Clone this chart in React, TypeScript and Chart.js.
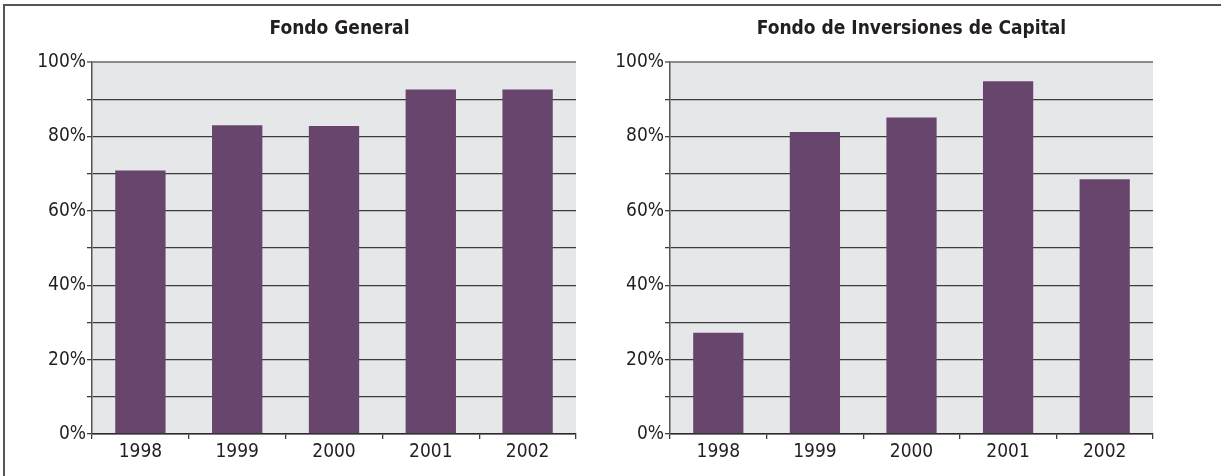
import React, { useEffect, useRef } from "react";
import { Chart, registerables } from "chart.js";

Chart.register(...registerables);

const years = ["1998", "1999", "2000", "2001", "2002"];
const fondoGeneral = [70.8, 83.0, 82.8, 92.6, 92.6];
const fondoCapital = [27.2, 81.2, 85.1, 94.8, 68.5];
const titleGeneral = "Fondo General";
const titleCapital = "Fondo de Inversiones de Capital";

const FONT = '"Liberation Sans Narrow", "DejaVu Sans Condensed", "Liberation Sans", Arial, sans-serif';
const BAR = "#67456c";
const TEXT = "#231f20";
const GRID = "#3c3c3c";

const bgPlugin = {
  id: "plotBg",
  beforeDraw(chart: any) {
    const { ctx, chartArea } = chart;
    if (!chartArea) return;
    ctx.save();
    ctx.fillStyle = "#e6e7e9";
    ctx.fillRect(chartArea.left, chartArea.top, chartArea.right - chartArea.left, chartArea.bottom - chartArea.top);
    ctx.restore();
  },
};

function makeConfig(title: string, values: number[], yWidth: number, rightPad: number): any {
  return {
    type: "bar",
    data: {
      labels: years,
      datasets: [
        {
          data: values,
          backgroundColor: BAR,
          borderWidth: 0,
          categoryPercentage: 1,
          barPercentage: 0.52,
        },
      ],
    },
    options: {
      responsive: false,
      animation: false,
      devicePixelRatio: 1,
      layout: { padding: 0 },
      plugins: {
        legend: { display: false },
        tooltip: { enabled: false },
        title: {
          display: true,
          text: title,
          color: TEXT,
          font: { family: FONT, size: 19, weight: "bold", lineHeight: 1.2 },
          padding: { top: 18, bottom: 21.2 },
        },
      },
      scales: {
        x: {
          grid: {
            display: true,
            drawOnChartArea: false,
            drawTicks: true,
            tickLength: 5,
            offset: true,
            color: GRID,
            lineWidth: 1.3,
          },
          border: { display: true, color: "#2a2a2a", width: 1.5 },
          ticks: { color: TEXT, font: { family: FONT, size: 19 }, padding: 2, maxRotation: 0 },
          afterFit(s: any) {
            s.height = 42;
          },
        },
        y: {
          min: 0,
          max: 100,
          grid: {
            drawTicks: true,
            tickLength: 5,
            color: (c: any) => (c.tick && c.tick.value === 100 ? "#8a8a8a" : GRID),
            lineWidth: (c: any) => (c.tick && c.tick.value === 100 ? 2 : 1.3),
          },
          border: { display: true, color: "#555555", width: 1.5 },
          ticks: {
            stepSize: 10,
            color: TEXT,
            padding: 1,
            font: { family: FONT, size: 19 },
            callback: (v: any) => (Number(v) % 20 === 0 ? v + "%" : ""),
          },
          afterFit(s: any) {
            s.width = yWidth;
          },
        },
        pad: {
          type: "linear",
          position: "right",
          display: true,
          grid: { display: false },
          border: { display: false },
          ticks: { display: false },
          afterFit(s: any) {
            s.width = rightPad;
          },
        },
      },
    },
    plugins: [bgPlugin],
  };
}

function BarChart(props: { title: string; values: number[]; left: number; width: number; yWidth: number; rightPad: number }) {
  const ref = useRef<HTMLCanvasElement | null>(null);
  useEffect(() => {
    if (!ref.current) return;
    const chart = new Chart(ref.current, makeConfig(props.title, props.values, props.yWidth, props.rightPad));
    return () => chart.destroy();
  }, []);
  return (
    <canvas
      ref={ref}
      width={props.width}
      height={476}
      style={{ position: "absolute", left: props.left, top: 0, width: props.width, height: 476 }}
    />
  );
}

export default function App() {
  return (
    <div
      style={{
        position: "absolute",
        left: 0,
        top: 0,
        width: 1221,
        height: 476,
        overflow: "hidden",
        background: "#ffffff",
      }}
    >
      <div
        style={{
          position: "absolute",
          left: 3,
          top: 4,
          width: 1400,
          height: 600,
          borderTop: "2px solid #555555",
          borderLeft: "2px solid #555555",
        }}
      />
      <BarChart title={titleGeneral} values={fondoGeneral} left={0} width={679} yWidth={92} rightPad={103} />
      <BarChart title={titleCapital} values={fondoCapital} left={611} width={601} yWidth={59} rightPad={59} />
    </div>
  );
}
